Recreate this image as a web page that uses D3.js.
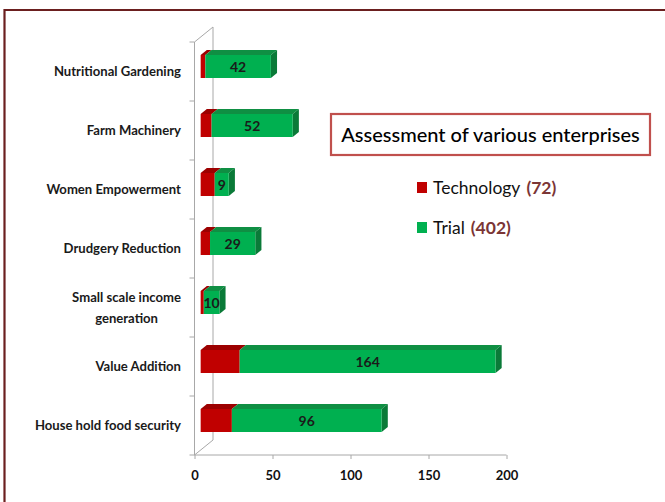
<!DOCTYPE html>
<html><head><meta charset="utf-8">
<script src="https://cdn.jsdelivr.net/npm/d3@7"></script>
<style>
html,body{margin:0;padding:0;background:#fff;}
svg{display:block;font-family:Lato, "Open Sans", sans-serif;}
</style></head>
<body>
<svg id="chart" width="665" height="502"></svg>
<script>
// ---- data ----
const categories = ["Nutritional Gardening","Farm Machinery","Women Empowerment","Drudgery Reduction","Small scale income generation","Value Addition","House hold food security"];
const categoryLines = [["Nutritional Gardening"],["Farm Machinery"],["Women Empowerment"],["Drudgery Reduction"],["Small scale income","generation"],["Value Addition"],["House hold food security"]];
const technology = [3, 7, 9, 6, 2, 25, 20];
const trial = [42, 52, 9, 29, 10, 164, 96];
const xTicks = [0, 50, 100, 150, 200];
const chartTitle = "Assessment of various enterprises";
const seriesNames = ["Technology", "Trial"];
const seriesTotals = ["(72)", "(402)"];

const svg = d3.select("#chart");

// outer frame (top and left edges visible)
svg.append("line").attr("x1",4).attr("x2",665).attr("y1",10).attr("y2",10).attr("stroke","#6b1f1f").attr("stroke-width",2.2);
svg.append("line").attr("x1",4.5).attr("x2",4.5).attr("y1",9).attr("y2",502).attr("stroke","#6b1f1f").attr("stroke-width",2.2);

const x = d3.scaleLinear().domain([0,200]).range([194.5, 506.5]);
const y = d3.scaleBand().domain(categories).range([42, 455]).paddingInner(0).paddingOuter(0);

const D = {dx: 18.5, dy: -15};          // full depth of the 3-D box
const off = {dx: D.dx/3, dy: D.dy/3};   // bar front offset
const bd = {dx: D.dx/3, dy: D.dy/3};    // bar depth
const barH = 23;

const wallColor = "#a8a8a8";
const g = svg.append("g");
g.append("line").attr("x1",x(0)+D.dx).attr("x2",x(0)+D.dx).attr("y1",42+D.dy).attr("y2",455+D.dy).attr("stroke",wallColor).attr("stroke-width",1);
g.append("line").attr("x1",x(0)).attr("y1",42).attr("x2",x(0)+D.dx).attr("y2",42+D.dy).attr("stroke",wallColor);
g.append("line").attr("x1",x(0)).attr("y1",455).attr("x2",x(0)+D.dx).attr("y2",455+D.dy).attr("stroke",wallColor);

const yAxisG = g.append("g").attr("transform",`translate(${x(0)},0)`);
yAxisG.append("line").attr("x1",0).attr("x2",0).attr("y1",42).attr("y2",455).attr("stroke",wallColor);
const boundaries = categories.map(c => y(c)).concat([455]);
yAxisG.selectAll("line.tick").data(boundaries).enter().append("line")
  .attr("class","tick").attr("x1",-5).attr("x2",0).attr("y1",d=>d).attr("y2",d=>d).attr("stroke",wallColor);

const xAxis = d3.axisBottom(x).tickValues(xTicks).tickSize(4).tickPadding(12).tickFormat(d3.format("d"));
const xAxisG = g.append("g").attr("transform","translate(0,455)").call(xAxis);
xAxisG.select(".domain").attr("stroke",wallColor).attr("d",`M${x(0)},0H${x(200)}`);
xAxisG.selectAll(".tick line").attr("stroke",wallColor);
xAxisG.selectAll(".tick text").attr("font-size",13).attr("font-weight","bold").attr("fill","#111").attr("font-family","Lato, sans-serif");

const labelFS = 13.1;
const labelG = svg.append("g");
categories.forEach((c,i) => {
  const lines = categoryLines[i];
  const cy = y(c) + y.bandwidth()/2;
  if (lines.length === 1) {
    labelG.append("text").attr("x",181).attr("y",cy).attr("dy","0.35em")
      .attr("text-anchor","end").attr("font-size",labelFS).attr("font-weight","bold").attr("fill","#1a1a1a").text(lines[0]);
  } else {
    const t = labelG.append("text").attr("font-size",labelFS).attr("font-weight","bold").attr("fill","#1a1a1a").attr("text-anchor","middle");
    const tmp = labelG.append("text").attr("font-size",labelFS).attr("font-weight","bold").text(lines[0]);
    const w = tmp.node().getComputedTextLength(); tmp.remove();
    lines.forEach((ln,j) => {
      t.append("tspan").attr("x",181 - w/2).attr("y", cy - 10 + j*21).attr("dy","0.35em").text(ln);
    });
  }
});

const colors = {
  tech: {front:"#c00000", top:"#9c0000", side:"#8a0000"},
  trial:{front:"#00b050", top:"#0f8f43", side:"#0a7a38"}
};
const barsG = svg.append("g");
function drawSeg(v0, v1, cy, col, withSide) {
  const x0 = x(v0) + off.dx, x1 = x(v1) + off.dx;
  const yt = cy - barH/2 + off.dy, yb = yt + barH;
  barsG.append("polygon").attr("points",
    [[x0,yt],[x0+bd.dx,yt+bd.dy],[x1+bd.dx,yt+bd.dy],[x1,yt]].map(p=>p.join(",")).join(" "))
    .attr("fill",col.top);
  if (withSide) {
    barsG.append("polygon").attr("points",
      [[x1,yt],[x1+bd.dx,yt+bd.dy],[x1+bd.dx,yb+bd.dy],[x1,yb]].map(p=>p.join(",")).join(" "))
      .attr("fill",col.side);
  }
  barsG.append("rect").attr("x",x0).attr("y",yt).attr("width",Math.max(0,x1-x0)).attr("height",barH).attr("fill",col.front);
  return {x0,x1,yt,yb};
}
categories.forEach((c,i) => {
  const cy = y(c) + y.bandwidth()/2;
  const tv = technology[i], rv = trial[i];
  drawSeg(0, tv, cy, colors.tech, false);
  const s = drawSeg(tv, tv+rv, cy, colors.trial, true);
  barsG.append("text").attr("x",(s.x0+s.x1)/2).attr("y",(s.yt+s.yb)/2).attr("dy","0.36em")
    .attr("text-anchor","middle").attr("font-size",14).attr("font-weight","bold").attr("fill","#1a1a1a").text(rv);
});

svg.append("rect").attr("x",331).attr("y",114).attr("width",319).attr("height",41)
  .attr("fill","#fff").attr("stroke","#c0504d").attr("stroke-width",2.2);
svg.append("text").attr("x",490.5).attr("y",135).attr("dy","0.35em").attr("text-anchor","middle")
  .attr("font-size",20).attr("font-weight",500).attr("fill","#000").text(chartTitle);

const legColors = ["#c00000","#00b050"];
seriesNames.forEach((n,i) => {
  const ly = 188 + i*40;
  svg.append("rect").attr("x",417).attr("y",ly-6).attr("width",10).attr("height",11).attr("fill",legColors[i]);
  const t = svg.append("text").attr("x",433).attr("y",ly).attr("dy","0.35em").attr("font-size",17.5).attr("fill","#111");
  t.append("tspan").text(n);
  t.append("tspan").attr("dx",6).attr("font-weight","bold").attr("fill","#7b3535").text(seriesTotals[i]);
});
</script>
</body></html>
